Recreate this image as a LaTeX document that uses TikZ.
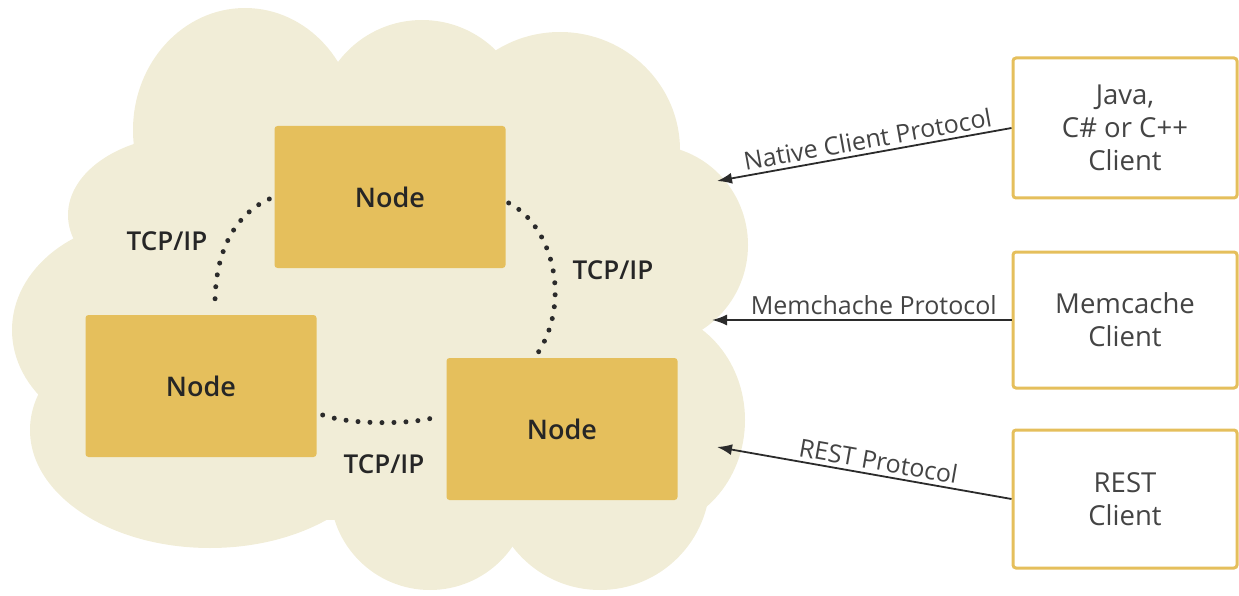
\documentclass[tikz,border=0pt]{standalone}
\usepackage{fontspec}
\setmainfont{Open Sans}[BoldFont={* Semibold}]
\usetikzlibrary{arrows.meta}
\definecolor{cloudc}{HTML}{F1EDD7}
\definecolor{nodec}{HTML}{E5BF5C}
\definecolor{linec}{HTML}{2B2B2B}
\definecolor{txtc}{HTML}{444444}
\begin{document}
\begin{tikzpicture}[x=1pt,y=-1pt,
 srv/.style={fill=nodec, rounded corners=3pt, minimum width=231pt, minimum height=142pt, font=\fontsize{27}{30}\selectfont\bfseries, text=black!85},
 cli/.style={draw=nodec, line width=3pt, fill=white, rounded corners=3pt, minimum width=224pt, align=center, font=\fontsize{27.5}{33}\selectfont, text=txtc},
 tcp/.style={font=\fontsize{26}{28}\selectfont\bfseries, text=black!85},
 link/.style={linec, line width=5pt, line cap=round, dash pattern=on 0pt off 12pt},
 proto/.style={linec, line width=1.8pt, {Latex[length=15pt,width=11pt]}-},
 plab/.style={font=\fontsize{25}{28}\selectfont, text=txtc, inner sep=4pt}]
\useasboundingbox (0,0) rectangle (1239,596);
% cloud
\begin{scope}[fill=cloudc]
\fill (245,130) ellipse [x radius=112, y radius=122];
\fill (422,125) circle [radius=105];
\fill (560,150) ellipse [x radius=120, y radius=118];
\fill (650,245) ellipse [x radius=98, y radius=100];
\fill (645,420) ellipse [x radius=100, y radius=110];
\fill (600,480) circle [radius=110];
\fill (430,490) circle [radius=100];
\fill (210,430) ellipse [x radius=180, y radius=118];
\fill (150,330) ellipse [x radius=138, y radius=110];
\fill (190,215) ellipse [x radius=122, y radius=80];
\fill (150,120) rectangle (660,520);
\end{scope}
% server nodes
\node[srv] (top) at (390,197) {Node};
\node[srv] (left) at (201,386) {Node};
\node[srv] (right) at (562,429) {Node};
% dotted links
\draw[link] ([xshift=-5pt,yshift=-2pt]top.west) .. controls (240,212) and (214,245) .. ([xshift=14pt,yshift=7pt]left.north);
\draw[link] ([xshift=3pt,yshift=-6pt]top.east) .. controls (552,225) and (572,300) .. ([xshift=-24pt,yshift=5pt]right.north);
\draw[link] ([xshift=6pt,yshift=-29pt]left.east) .. controls (350,425) and (415,425) .. ([xshift=-7pt,yshift=13pt]right.west);
\node[tcp] (t1) at (167,241) {TCP/IP};
\node[tcp] (t2) at (613,270) {TCP/IP};
\node[tcp] (t3) at (384,464) {TCP/IP};
% clients
\node[cli, minimum height=140pt] (c1) at (1125,128) {Java,\\C\# or C++\\Client};
\node[cli, minimum height=136pt] (c2) at (1125,320) {Memcache\\Client};
\node[cli, minimum height=138pt] (c3) at (1125,499) {REST\\Client};
\coordinate (e1) at (717,181);
\coordinate (e2) at (712,320);
\coordinate (e3) at (717,447);
\draw[proto] (e1) -- node[plab, sloped, above, pos=0.52] {Native Client Protocol} (c1.west);
\draw[proto] (e2) -- node[plab, above, pos=0.54] {Memchache Protocol} (c2.west);
\draw[proto] (e3) -- node[plab, sloped, above, pos=0.54] {REST Protocol} (c3.west);
\end{tikzpicture}
\end{document}
